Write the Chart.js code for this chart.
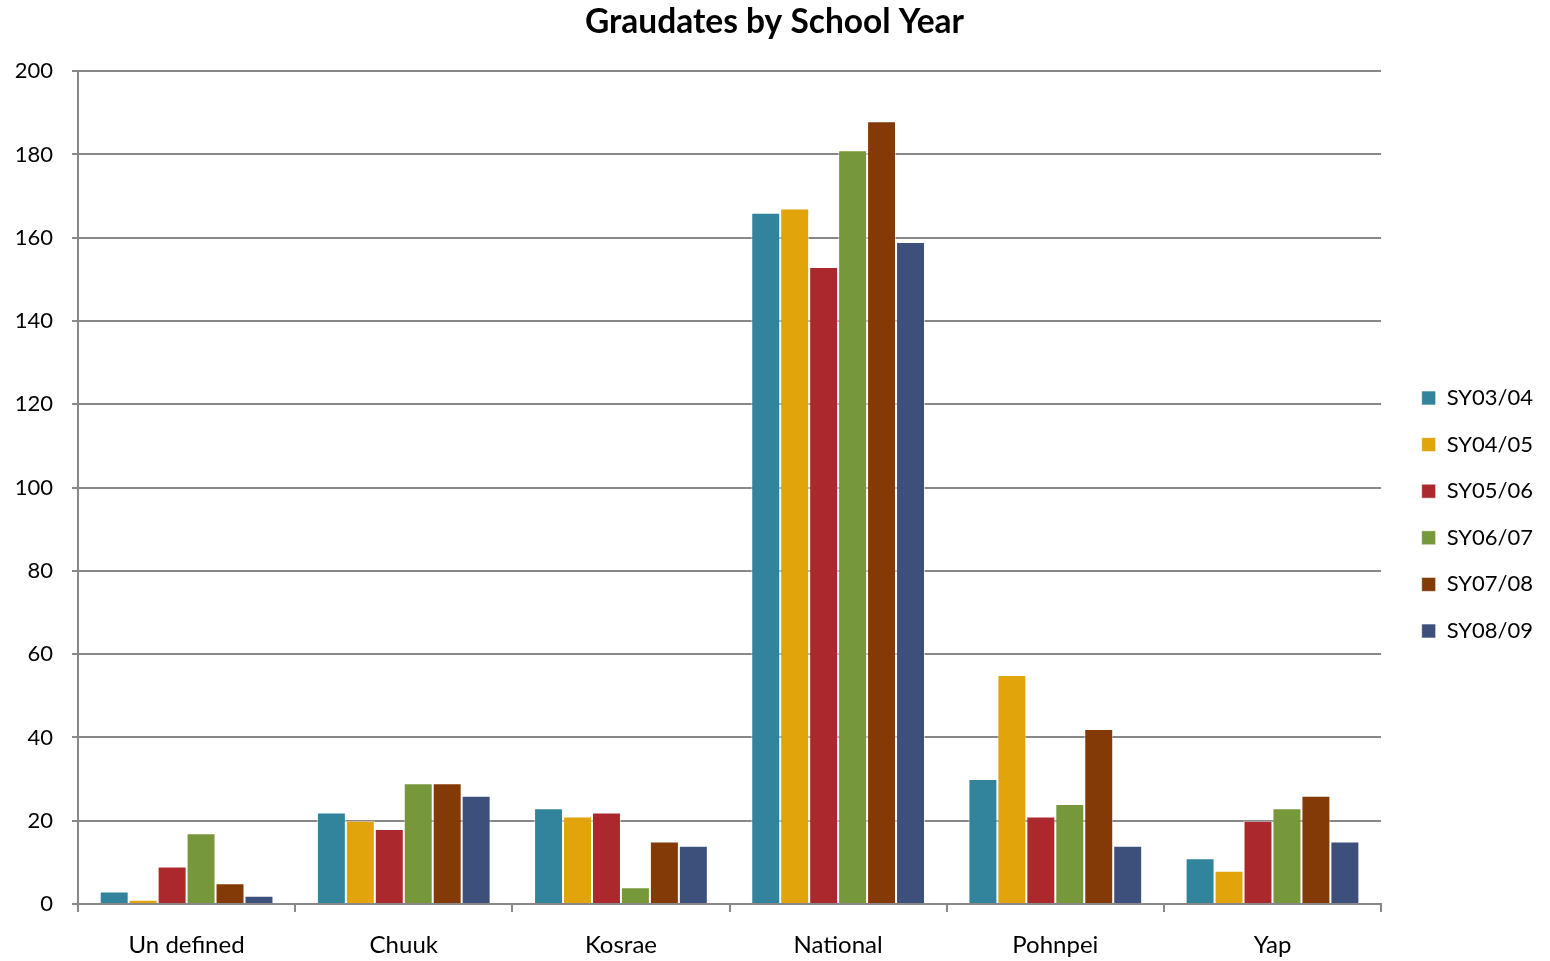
<!DOCTYPE html>
<html>
<head>
<meta charset="utf-8">
<script src="https://cdn.jsdelivr.net/npm/chart.js@4/dist/chart.umd.min.js"></script>
<style>
  html, body { margin: 0; padding: 0; background: #fff; }
  #wrap { width: 1550px; height: 961px; }
</style>
</head>
<body>
<div id="wrap"><canvas id="chart"></canvas></div>
<script>
// categories and series
const regions = ['Un defined', 'Chuuk', 'Kosrae', 'National', 'Pohnpei', 'Yap'];
const sy0304 = [3, 22, 23, 166, 30, 11];
const sy0405 = [1, 20, 21, 167, 55, 8];
const sy0506 = [9, 18, 22, 153, 21, 20];
const sy0607 = [17, 29, 4, 181, 24, 23];
const sy0708 = [5, 29, 15, 188, 42, 26];
const sy0809 = [2, 26, 14, 159, 14, 15];
const yTicks = [0, 20, 40, 60, 80, 100, 120, 140, 160, 180, 200];

const font = 'Lato, "Open Sans", sans-serif';

const series = [
    { label: 'SY03/04', data: sy0304, color: '#31849B' },
    { label: 'SY04/05', data: sy0405, color: '#E1A40A' },
    { label: 'SY05/06', data: sy0506, color: '#AB282C' },
    { label: 'SY06/07', data: sy0607, color: '#77973B' },
    { label: 'SY07/08', data: sy0708, color: '#843A07' },
    { label: 'SY08/09', data: sy0809, color: '#3D4F7B' }
];

// nudge legend and title a bit, like the original
const nudge = {
    id: 'nudge',
    afterLayout(chart) {
        const lg = chart.legend;
        lg.left += 16; lg.right += 16;
        lg.top += 33; lg.bottom += 33;
        const tb = chart.titleBlock;
        tb.left += 11; tb.right += 11;
    }
};

const ctx = document.getElementById('chart').getContext('2d');
new Chart(ctx, {
    type: 'bar',
    data: {
        labels: regions,
        datasets: series.map(s => ({
            label: s.label,
            data: s.data,
            backgroundColor: s.color,
            borderColor: 'rgba(255,255,255,0.6)',
            borderWidth: 1,
            categoryPercentage: 0.8,
            barPercentage: 1.0
        }))
    },
    plugins: [nudge],
    options: {
        responsive: true,
        maintainAspectRatio: false,
        animation: false,
        layout: { padding: { left: 0, right: 23, top: 2, bottom: 0 } },
        plugins: {
            title: {
                display: true,
                text: 'Graudates by School Year',
                color: '#000',
                font: { family: font, size: 33.5, weight: 'bold' },
                padding: { top: 0, bottom: 29 }
            },
            legend: {
                position: 'right',
                align: 'center',
                labels: {
                    color: '#000',
                    font: { family: font, size: 22 },
                    boxWidth: 14,
                    boxHeight: 14,
                    padding: 24.6
                }
            },
            tooltip: { enabled: false }
        },
        scales: {
            x: {
                offset: true,
                afterFit: scale => { scale.height = 57; },
                grid: {
                    offset: true,
                    drawOnChartArea: false,
                    drawTicks: true,
                    tickLength: 8,
                    color: '#888',
                    lineWidth: 2
                },
                border: { color: '#888', width: 2 },
                ticks: {
                    color: '#000',
                    font: { family: font, size: 24 },
                    padding: 19
                }
            },
            y: {
                min: 0,
                max: 200,
                afterFit: scale => { scale.width = 78; },
                afterBuildTicks: axis => { axis.ticks = yTicks.map(v => ({ value: v })); },
                grid: {
                    color: '#888',
                    lineWidth: 2,
                    tickLength: 6
                },
                border: { color: '#888', width: 2 },
                ticks: {
                    color: '#000',
                    font: { family: font, size: 22 },
                    padding: 19
                }
            }
        }
    }
});
</script>
</body>
</html>
